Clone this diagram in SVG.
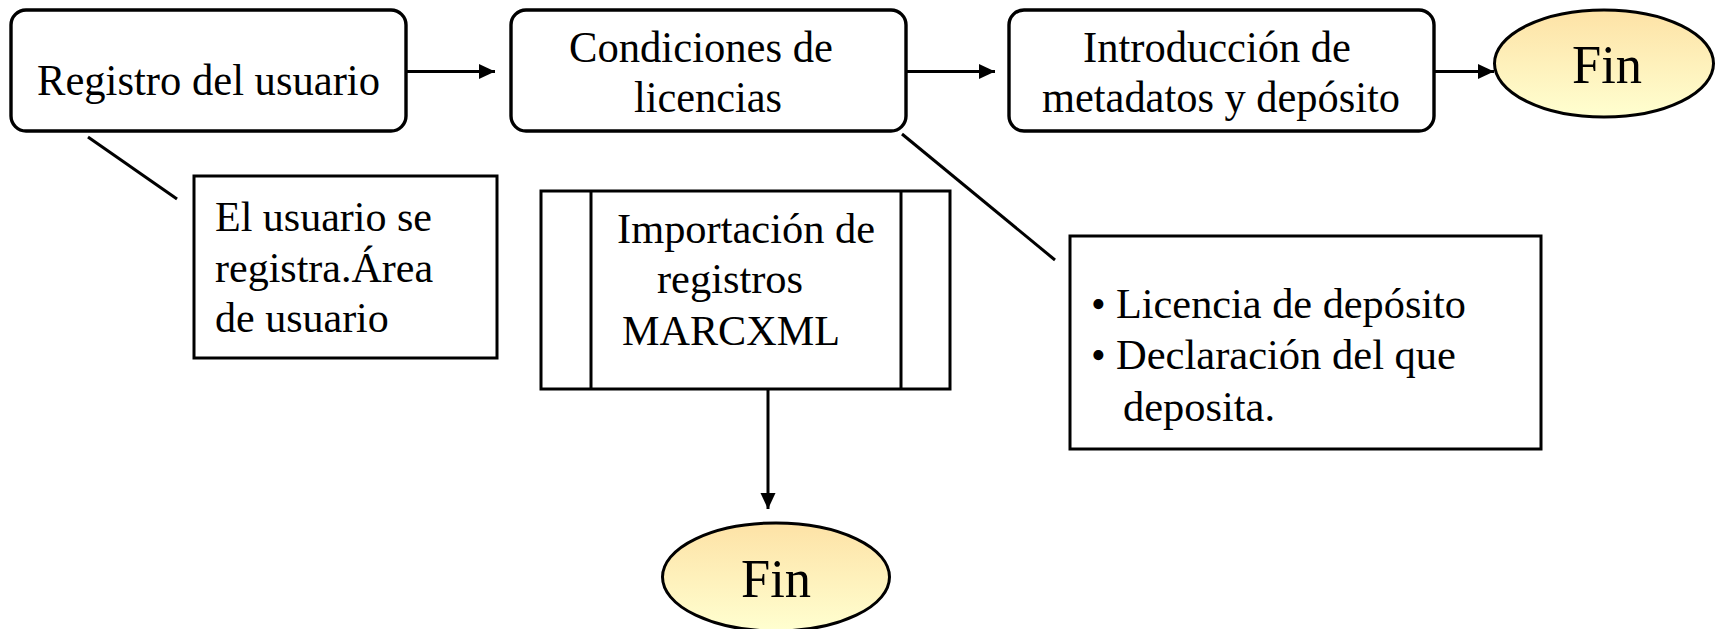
<svg xmlns="http://www.w3.org/2000/svg" width="1716" height="629" viewBox="0 0 1716 629">
<style>
.box{fill:#fff;stroke:#000;stroke-width:3.4}
.note{fill:#fff;stroke:#000;stroke-width:3}
.term{fill:url(#fin);stroke:#000;stroke-width:3}
.t{font-family:"Liberation Serif","Times New Roman",serif;fill:#000}
.m{font-size:45px}
.n{font-size:42px}
.f{font-size:54px}
.c{stroke:#000;stroke-width:3;fill:none}
</style>
<defs>
<linearGradient id="fin" x1="0" y1="0" x2="0" y2="1">
<stop offset="0" stop-color="#FDE2A6"/>
<stop offset="1" stop-color="#FFFFD0"/>
</linearGradient>
<marker id="ah" markerUnits="userSpaceOnUse" markerWidth="16" markerHeight="16" viewBox="0 0 16 16" refX="16" refY="8" orient="auto">
<path d="M0,0.5 L16,8 L0,15.5 Z" fill="#000"/>
</marker>
</defs>
<g id="connectors">
<line class="c" x1="406" y1="71.5" x2="495" y2="71.5" marker-end="url(#ah)"/>
<line class="c" x1="906" y1="71.5" x2="995" y2="71.5" marker-end="url(#ah)"/>
<line class="c" x1="1434" y1="71.5" x2="1494" y2="71.5" marker-end="url(#ah)"/>
<line class="c" x1="768" y1="389" x2="768" y2="509" marker-end="url(#ah)"/>
<line class="c" x1="88" y1="137" x2="177" y2="199"/>
<line class="c" x1="902" y1="134" x2="1055" y2="260"/>
</g>
<g id="registro">
<rect class="box" x="11" y="10" width="395" height="121" rx="15"/>
<text class="t m" x="37" y="95" textLength="343" lengthAdjust="spacingAndGlyphs">Registro del usuario</text>
</g>
<g id="condiciones">
<rect class="box" x="511" y="10" width="395" height="121" rx="15"/>
<text class="t m" x="569" y="62" textLength="264" lengthAdjust="spacingAndGlyphs">Condiciones de</text>
<text class="t m" x="634" y="112" textLength="148" lengthAdjust="spacingAndGlyphs">licencias</text>
</g>
<g id="introduccion">
<rect class="box" x="1009" y="10" width="425" height="121" rx="15"/>
<text class="t m" x="1083" y="62" textLength="268" lengthAdjust="spacingAndGlyphs">Introducción de</text>
<text class="t m" x="1042" y="112" textLength="358" lengthAdjust="spacingAndGlyphs">metadatos y depósito</text>
</g>
<g id="fin1">
<ellipse class="term" cx="1604" cy="63.5" rx="109.5" ry="53.5"/>
<text class="t f" x="1572" y="83" textLength="70" lengthAdjust="spacingAndGlyphs">Fin</text>
</g>
<g id="nota-usuario">
<rect class="note" x="194" y="176" width="303" height="182"/>
<text class="t n" x="215" y="231">El usuario se</text>
<text class="t n" x="215" y="282">registra.Área</text>
<text class="t n" x="215" y="332">de usuario</text>
</g>
<g id="importacion">
<rect class="note" x="541" y="191" width="409" height="198"/>
<line class="c" x1="591" y1="191" x2="591" y2="389"/>
<line class="c" x1="901" y1="191" x2="901" y2="389"/>
<text class="t n" x="617" y="243" textLength="258" lengthAdjust="spacingAndGlyphs">Importación de</text>
<text class="t n" x="657" y="293" textLength="146" lengthAdjust="spacingAndGlyphs">registros</text>
<text class="t n" x="622" y="345" textLength="218" lengthAdjust="spacingAndGlyphs">MARCXML</text>
</g>
<g id="fin2">
<ellipse class="term" cx="776" cy="577" rx="113.5" ry="54"/>
<text class="t f" x="741" y="597" textLength="70" lengthAdjust="spacingAndGlyphs">Fin</text>
</g>
<g id="nota-licencias">
<rect class="note" x="1070" y="236" width="471" height="213"/>
<text class="t n" x="1091" y="318">•</text>
<text class="t n" x="1116" y="318" textLength="350" lengthAdjust="spacingAndGlyphs">Licencia de depósito</text>
<text class="t n" x="1091" y="369">•</text>
<text class="t n" x="1116" y="369" textLength="340" lengthAdjust="spacingAndGlyphs">Declaración del que</text>
<text class="t n" x="1123" y="421" textLength="152" lengthAdjust="spacingAndGlyphs">deposita.</text>
</g>
</svg>
